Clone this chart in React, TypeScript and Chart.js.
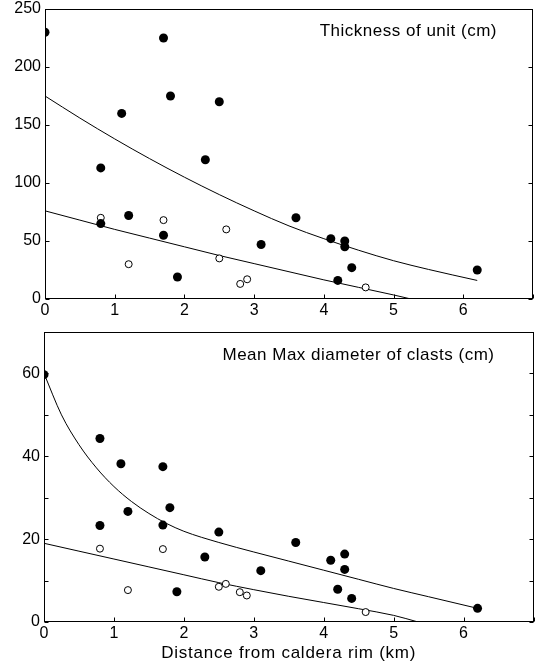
import React, { useEffect, useRef } from 'react';
import { Chart, registerables } from 'chart.js';

Chart.register(...registerables);

// ---------- Data: Thickness of unit (cm) ----------
const thickFilledDist = [0, 1.7, 1.8, 2.5, 1.1, 2.3, 0.8, 1.2, 0.8, 1.7, 1.9, 3.1, 3.6, 4.1, 4.3, 4.3, 4.4, 4.2, 6.2];
const thickFilledVal = [230, 225, 175, 170, 160, 120, 113, 72, 65, 55, 19, 47, 70, 52, 50, 45, 27, 16, 25];
const thickOpenDist = [0.8, 1.7, 1.2, 2.6, 2.5, 2.8, 2.9, 4.6];
const thickOpenVal = [70, 68, 30, 60, 35, 13, 17, 10];
const thickUpperCurveDist = [0, 0.5, 1, 1.5, 2, 2.5, 3, 3.5, 4, 4.5, 5, 5.5, 6.2];
const thickUpperCurveVal = [175, 156, 138, 121, 105, 90, 76, 63, 52, 42, 33, 25.5, 16];
const thickLowerCurveDist = [0, 0.5, 1, 1.5, 2, 2.5, 3, 3.5, 4, 4.5, 5, 5.25];
const thickLowerCurveVal = [76, 68, 60, 52.5, 45, 37.5, 30.5, 23.5, 16.5, 10, 3.5, 0];

// ---------- Data: Mean Max diameter of clasts (cm) ----------
const clastFilledDist = [0, 0.8, 1.1, 1.7, 1.2, 1.8, 0.8, 1.7, 2.5, 2.3, 3.1, 1.9, 3.6, 4.1, 4.3, 4.3, 4.2, 4.4, 6.2];
const clastFilledVal = [59.7, 44.3, 38.2, 37.5, 26.7, 27.6, 23.3, 23.4, 21.7, 15.7, 12.4, 7.3, 19.2, 14.9, 16.4, 12.7, 7.9, 5.7, 3.3];
const clastOpenDist = [0.8, 1.7, 1.2, 2.5, 2.6, 2.8, 2.9, 4.6];
const clastOpenVal = [17.7, 17.6, 7.7, 8.5, 9.2, 7.2, 6.4, 2.4];
const clastUpperCurveDist = [0, 0.25, 0.5, 0.75, 1, 1.25, 1.5, 1.75, 2, 2.5, 3, 3.5, 4, 4.5, 5, 5.5, 6.2];
const clastUpperCurveVal = [60, 50, 42.8, 37.2, 32.7, 29.1, 26.2, 23.8, 21.9, 19.2, 16.9, 14.7, 12.5, 10.3, 8.1, 6.1, 3.3];
const clastLowerCurveDist = [0, 0.5, 1, 1.5, 2, 2.5, 3, 3.5, 4, 4.5, 5, 5.35];
const clastLowerCurveVal = [19, 17.1, 15.2, 13.3, 11.4, 9.5, 7.8, 6.2, 4.7, 3.2, 1.6, 0];

// ---------- Labels ----------
const thickTitle = 'Thickness of unit (cm)';
const clastTitle = 'Mean Max diameter of clasts (cm)';
const xAxisTitle = 'Distance from caldera rim (km)';
const xLabelValues = [0, 1, 2, 3, 4, 5, 6];
const thickYLabelValues = [0, 50, 100, 150, 200, 250];
const clastYLabelValues = [0, 20, 40, 60];

const FONT = '"Liberation Sans", Arial, Helvetica, sans-serif';

const zip = (xs: number[], ys: number[]) => xs.map((x, i) => ({ x, y: ys[i] }));

const framePlugin = {
  id: 'frame',
  afterDraw(chart: any) {
    const { ctx, chartArea: a, scales } = chart;
    const opts = chart.options.plugins.frame || {};
    ctx.save();
    ctx.strokeStyle = '#000';
    ctx.lineWidth = 1;
    const L = Math.round(a.left) + 0.5;
    const R = Math.round(a.right) - 0.5;
    const T = Math.round(a.top) + 0.5;
    const B = Math.round(a.bottom) - 0.5;
    ctx.strokeRect(L, T, R - L, B - T);
    const tl = 4;
    ctx.beginPath();
    scales.y.ticks.forEach((t: any) => {
      const py = Math.round(scales.y.getPixelForValue(t.value)) + 0.5;
      ctx.moveTo(L, py);
      ctx.lineTo(L + tl, py);
      ctx.moveTo(R, py);
      ctx.lineTo(R - tl, py);
    });
    scales.x.ticks.forEach((t: any) => {
      const px = Math.round(scales.x.getPixelForValue(t.value)) + 0.5;
      ctx.moveTo(px, B);
      ctx.lineTo(px, B - tl);
    });
    ctx.stroke();
    ctx.fillStyle = '#000';
    ctx.textBaseline = 'alphabetic';
    if (opts.text) {
      ctx.font = `17px ${FONT}`;
      (ctx as any).letterSpacing = '0.5px';
      ctx.textAlign = 'right';
      ctx.fillText(opts.text, a.right - opts.dx, a.top + opts.dy);
    }
    if (opts.xTitle) {
      ctx.font = `17px ${FONT}`;
      (ctx as any).letterSpacing = '0.75px';
      ctx.textAlign = 'center';
      ctx.fillText(opts.xTitle, (a.left + a.right) / 2, opts.xTitleY);
    }
    ctx.restore();
  },
};

function makeConfig(p: any) {
  const zeroPad = (s: any) => {
    s.paddingTop = 0;
    s.paddingBottom = 0;
    s.paddingLeft = 0;
    s.paddingRight = 0;
  };
  return {
    type: 'scatter',
    data: {
      datasets: [
        {
          data: p.filled,
          pointRadius: 4.5,
          pointHoverRadius: 4.5,
          backgroundColor: '#000',
          borderColor: '#000',
          borderWidth: 0,
          order: 1,
        },
        {
          data: p.open,
          pointRadius: 3.5,
          pointHoverRadius: 3.5,
          backgroundColor: '#fff',
          borderColor: '#000',
          borderWidth: 1,
          order: 2,
        },
        {
          data: p.upper,
          showLine: true,
          pointRadius: 0,
          borderColor: '#000',
          borderWidth: 1,
          cubicInterpolationMode: 'monotone',
          fill: false,
          order: 3,
        },
        {
          data: p.lower,
          showLine: true,
          pointRadius: 0,
          borderColor: '#000',
          borderWidth: 1,
          cubicInterpolationMode: 'monotone',
          fill: false,
          order: 3,
        },
      ],
    },
    options: {
      responsive: false,
      animation: false,
      devicePixelRatio: 1,
      layout: { padding: p.padding },
      plugins: {
        legend: { display: false },
        tooltip: { enabled: false },
        frame: { text: p.title, dx: p.titleDx, dy: p.titleDy, xTitle: p.xTitle, xTitleY: p.xTitleY },
      },
      scales: {
        x: {
          type: 'linear',
          min: 0,
          max: 7,
          afterFit: (s: any) => {
            s.height = p.xHeight;
            zeroPad(s);
          },
          grid: { display: false, drawTicks: false },
          border: { display: false },
          ticks: {
            stepSize: 1,
            autoSkip: false,
            maxRotation: 0,
            padding: p.xTickPad,
            color: '#000',
            font: { size: 16, family: FONT },
            callback: (v: number) => (xLabelValues.includes(v) ? String(v) : ''),
          },
        },
        y: {
          type: 'linear',
          min: 0,
          max: p.yMax,
          afterFit: (s: any) => {
            s.width = p.yWidth;
            zeroPad(s);
          },
          grid: { display: false, drawTicks: false },
          border: { display: false },
          ticks: {
            stepSize: p.yStep,
            autoSkip: false,
            padding: 4,
            color: '#000',
            font: { size: 16, family: FONT },
            callback: (v: number) => (p.yLabels.includes(v) ? String(v) : ''),
          },
        },
      },
    },
    plugins: [framePlugin],
  } as any;
}

export default function App() {
  const topRef = useRef<HTMLCanvasElement>(null);
  const botRef = useRef<HTMLCanvasElement>(null);

  useEffect(() => {
    const top = new Chart(
      topRef.current as HTMLCanvasElement,
      makeConfig({
        filled: zip(thickFilledDist, thickFilledVal),
        open: zip(thickOpenDist, thickOpenVal),
        upper: zip(thickUpperCurveDist, thickUpperCurveVal),
        lower: zip(thickLowerCurveDist, thickLowerCurveVal),
        padding: { left: 0, right: 5, top: 9, bottom: 0 },
        xHeight: 19,
        yWidth: 45,
        xTickPad: 2,
        yMax: 250,
        yStep: 50,
        yLabels: thickYLabelValues,
        title: thickTitle,
        titleDx: 36,
        titleDy: 27,
        xTitle: null,
        xTitleY: 0,
      })
    );
    const bot = new Chart(
      botRef.current as HTMLCanvasElement,
      makeConfig({
        filled: zip(clastFilledDist, clastFilledVal),
        open: zip(clastOpenDist, clastOpenVal),
        upper: zip(clastUpperCurveDist, clastUpperCurveVal),
        lower: zip(clastLowerCurveDist, clastLowerCurveVal),
        padding: { left: 0, right: 2, top: 14, bottom: 0 },
        xHeight: 42,
        yWidth: 44,
        xTickPad: 2,
        yMax: 70,
        yStep: 10,
        yLabels: clastYLabelValues,
        title: clastTitle,
        titleDx: 39,
        titleDy: 28,
        xTitle: xAxisTitle,
        xTitleY: 340,
      })
    );
    return () => {
      top.destroy();
      bot.destroy();
    };
  }, []);

  return (
    <div style={{ position: 'absolute', left: 0, top: 0, width: 538, height: 664, background: '#fff' }}>
      <canvas
        ref={topRef}
        width={538}
        height={318}
        style={{ position: 'absolute', left: 0, top: 0, width: 538, height: 318 }}
      />
      <canvas
        ref={botRef}
        width={538}
        height={346}
        style={{ position: 'absolute', left: 0, top: 318, width: 538, height: 346 }}
      />
    </div>
  );
}
